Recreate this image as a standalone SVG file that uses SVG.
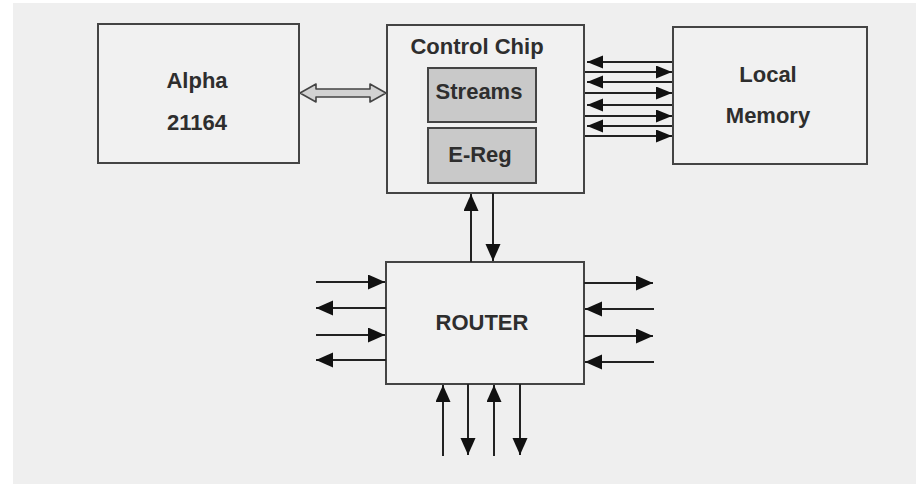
<svg xmlns="http://www.w3.org/2000/svg" width="916" height="493" viewBox="0 0 916 493">
<style>
.box{fill:#f1f1f1;stroke:#444;stroke-width:2}
.inner{fill:#c9c9c9;stroke:#444;stroke-width:2}
.lbl{font-family:"Liberation Sans",Arial,sans-serif;font-weight:bold;font-size:22px;fill:#2e2e2e;text-anchor:middle}
.ar{stroke:#222;stroke-width:2;fill:none;marker-end:url(#ah)}
.am{stroke:#222;stroke-width:2;fill:none;marker-end:url(#ahs)}
</style>
<defs>
<marker id="ah" markerUnits="userSpaceOnUse" markerWidth="18" markerHeight="16" refX="17" refY="7.5" orient="auto">
<path d="M0,0 L17,7.5 L0,15 z" fill="#111"/>
</marker>
<marker id="ahs" markerUnits="userSpaceOnUse" markerWidth="17" markerHeight="14" refX="16" refY="6.5" orient="auto">
<path d="M0,0 L16,6.5 L0,13 z" fill="#111"/>
</marker>
</defs>
<rect x="0" y="0" width="916" height="493" fill="#ffffff"/>
<rect x="13" y="3" width="903" height="481" fill="#efefef"/>
<g id="alpha">
<rect class="box" x="98" y="24" width="201" height="139"/>
<text class="lbl" x="197" y="88">Alpha</text>
<text class="lbl" x="197" y="130">21164</text>
</g>
<g id="control-chip">
<rect class="box" x="387" y="25" width="197" height="168"/>
<text class="lbl" x="477" y="54">Control Chip</text>
</g>
<g id="streams">
<rect class="inner" x="428" y="68" width="108" height="54"/>
<text class="lbl" x="479" y="99">Streams</text>
</g>
<g id="ereg">
<rect class="inner" x="428" y="128" width="108" height="55"/>
<text class="lbl" x="480" y="162">E-Reg</text>
</g>
<g id="local-memory">
<rect class="box" x="673" y="27" width="194" height="137"/>
<text class="lbl" x="768" y="82">Local</text>
<text class="lbl" x="768" y="123">Memory</text>
</g>
<g id="router">
<rect class="box" x="386" y="262" width="198" height="122"/>
<text class="lbl" x="482" y="330">ROUTER</text>
</g>
<g id="connectors">
<polygon points="300,93 316,84 316,89 370,89 370,84 386,93 370,102 370,97 316,97 316,102" fill="#d2d2d2" stroke="#444" stroke-width="1.6" stroke-linejoin="round"/>
<line class="am" x1="672" y1="62" x2="587" y2="62"/>
<line class="am" x1="585" y1="72" x2="672" y2="72"/>
<line class="am" x1="672" y1="82" x2="587" y2="82"/>
<line class="am" x1="585" y1="93" x2="672" y2="93"/>
<line class="am" x1="672" y1="105" x2="587" y2="105"/>
<line class="am" x1="585" y1="116" x2="672" y2="116"/>
<line class="am" x1="672" y1="126" x2="587" y2="126"/>
<line class="am" x1="585" y1="136" x2="672" y2="136"/>
<line class="ar" x1="471" y1="262" x2="471" y2="194"/>
<line class="ar" x1="493" y1="193" x2="493" y2="261"/>
<line class="ar" x1="316" y1="282" x2="385" y2="282"/>
<line class="ar" x1="386" y1="308" x2="316" y2="308"/>
<line class="ar" x1="316" y1="335" x2="385" y2="335"/>
<line class="ar" x1="386" y1="360" x2="316" y2="360"/>
<line class="ar" x1="584" y1="283" x2="653" y2="283"/>
<line class="ar" x1="654" y1="309" x2="585" y2="309"/>
<line class="ar" x1="584" y1="336" x2="653" y2="336"/>
<line class="ar" x1="654" y1="362" x2="585" y2="362"/>
<line class="ar" x1="443" y1="456" x2="443" y2="385"/>
<line class="ar" x1="468" y1="384" x2="468" y2="455"/>
<line class="ar" x1="494" y1="456" x2="494" y2="385"/>
<line class="ar" x1="520" y1="384" x2="520" y2="455"/>
</g>
</svg>
